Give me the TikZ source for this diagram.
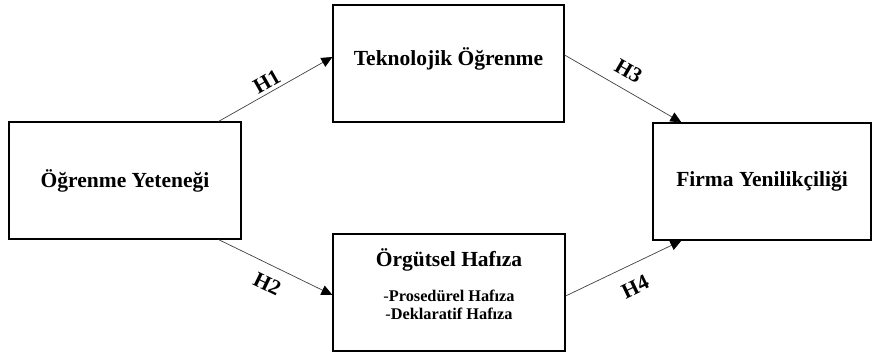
\documentclass[tikz,border=0pt]{standalone}
\usepackage{fontspec}
\setmainfont{Liberation Serif}
\usetikzlibrary{arrows.meta}

\begin{document}
\begin{tikzpicture}[x=1pt, y=-1pt,
  kutu/.style={draw, line width=1.2pt, minimum width=232pt, minimum height=117pt,
    inner sep=0pt, font=\fontsize{21.5}{25}\selectfont\bfseries},
  ok/.style={-{Triangle[length=11pt,width=10pt,color=black]}, draw=black!75, line width=0.7pt},
  etiket/.style={sloped, font=\fontsize{21.5}{25}\selectfont\bfseries}]
  \useasboundingbox (0,0) rectangle (873,356);

  \node[kutu] (yet) at (125,180.5) {Öğrenme Yeteneği};
  \node[kutu, minimum width=231pt, text depth=14pt] (tek) at (448.5,63.5) {Teknolojik Öğrenme};
  \node[kutu] (org) at (449,292.5) {};
  \node[kutu, minimum width=218pt] (fir) at (762,181.5) {Firma Yenilikçiliği};

  % kutu icindeki metin
  \node[font=\fontsize{21.5}{25}\selectfont\bfseries] (orgbaslik) at (449,260) {Örgütsel Hafıza};
  \node[font=\fontsize{16.3}{18}\selectfont\bfseries, align=center] (orgalt) at (449,305)
    {{\mdseries -}Prosedürel Hafıza\\{\mdseries -}Deklaratif Hafıza};

  \draw[ok] ([xshift=-23pt]yet.north east) -- node[etiket, above, pos=0.47] {H1} ([yshift=6.5pt]tek.west);
  \draw[ok] ([xshift=-23pt]yet.south east) -- node[etiket, below=8pt] {H2} ([yshift=-2.5pt]org.west);
  \draw[ok] ([yshift=8.5pt]tek.east) -- node[etiket, above=7pt, pos=0.47] {H3} ([xshift=29pt]fir.north west);
  \draw[ok] ([yshift=-3.5pt]org.east) -- node[etiket, below=11pt, pos=0.52] {H4} ([xshift=29pt]fir.south west);
\end{tikzpicture}
\end{document}
